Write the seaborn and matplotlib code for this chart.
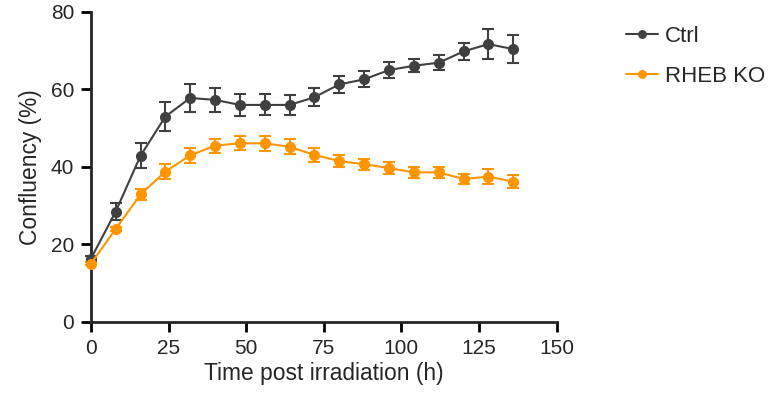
#!/usr/bin/env python3
# coding: utf-8

import matplotlib.pyplot as plt
import seaborn as sns
import pandas as pd
import numpy as np

plt.switch_backend('Agg')

time_h = [0, 8, 16, 24, 32, 40, 48, 56, 64, 72, 80, 88, 96, 104, 112, 120, 128, 136]
ctrl_mean = [16.3, 28.5, 42.9, 53.0, 57.8, 57.3, 56.0, 56.0, 56.0, 58.0, 61.3, 62.6, 65.0, 66.1, 66.9, 69.8, 71.7, 70.4]
ctrl_err = [0.8, 2.2, 3.2, 3.8, 3.5, 3.1, 2.9, 2.7, 2.5, 2.3, 2.1, 2.1, 2.0, 1.7, 2.0, 2.3, 3.9, 3.7]
rheb_mean = [15.0, 24.0, 32.9, 38.8, 43.0, 45.5, 46.1, 46.1, 45.2, 43.1, 41.5, 40.7, 39.7, 38.6, 38.6, 36.9, 37.5, 36.2]
rheb_err = [0.4, 0.6, 1.4, 1.9, 2.0, 1.8, 1.8, 2.0, 1.9, 1.8, 1.5, 1.4, 1.5, 1.4, 1.4, 1.3, 2.0, 1.7]
groups = ['Ctrl', 'RHEB KO']
colors = {'Ctrl': '#404040', 'RHEB KO': '#FF9500'}

df = pd.concat([
    pd.DataFrame({'time': time_h, 'conf': ctrl_mean, 'err': ctrl_err, 'group': 'Ctrl'}),
    pd.DataFrame({'time': time_h, 'conf': rheb_mean, 'err': rheb_err, 'group': 'RHEB KO'}),
])

sns.set_style('ticks')
plt.rcParams['font.family'] = ['Liberation Sans', 'DejaVu Sans']

fig = plt.figure(figsize=(7.7, 3.97), dpi=100)
ax = fig.add_axes([0.118, 0.189, 0.605, 0.781])

sns.lineplot(data=df, x='time', y='conf', hue='group', hue_order=groups,
             palette=colors, marker='o', markersize=8, markeredgewidth=0,
             linewidth=1.5, ax=ax, clip_on=False, zorder=3)

# error bars (SEM)
for g in groups:
    sub = df[df['group'] == g]
    ax.errorbar(sub['time'], sub['conf'], yerr=sub['err'], fmt='none',
                ecolor=colors[g], elinewidth=1.5, capsize=4, capthick=1.5,
                clip_on=False, zorder=2)

ax.set_xlim(0, 150)
ax.set_ylim(0, 80)
ax.set_xticks([0, 25, 50, 75, 100, 125, 150])
ax.set_yticks([0, 20, 40, 60, 80])
ax.set_xlabel('Time post irradiation (h)', fontsize=16.4, labelpad=3)
ax.set_ylabel('Confluency (%)', fontsize=16.4, labelpad=6)
ax.tick_params(labelsize=15, width=2, length=7, color='black', pad=5)
for s in ['left', 'bottom']:
    ax.spines[s].set_linewidth(2)
sns.despine(ax=ax)

ax.legend(loc='upper left', bbox_to_anchor=(1.105, 1.02), frameon=False,
          fontsize=16, handlelength=1.45, handletextpad=0.3,
          labelspacing=0.85, markerscale=0.8)

plt.savefig('out.png', dpi=100)
